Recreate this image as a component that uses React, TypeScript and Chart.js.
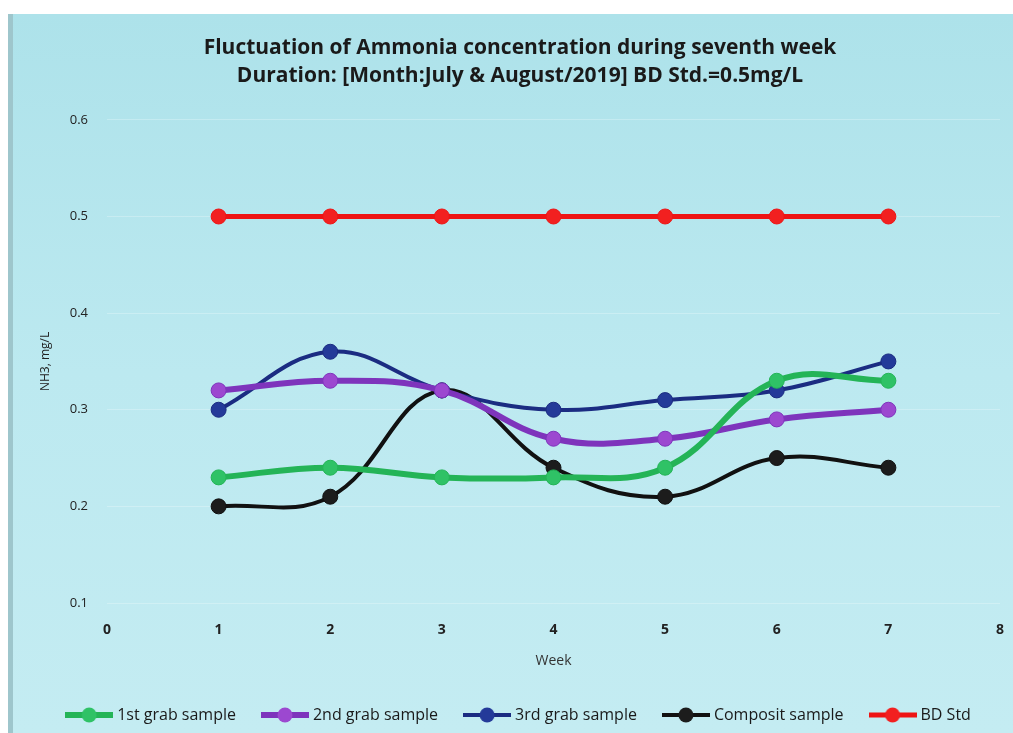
import React, { useEffect, useRef } from "react";
import { Chart, registerables } from "chart.js";

Chart.register(...registerables);

const weeks = [1, 2, 3, 4, 5, 6, 7];
const grab1 = [0.23, 0.24, 0.23, 0.23, 0.24, 0.33, 0.33];
const grab2 = [0.32, 0.33, 0.32, 0.27, 0.27, 0.29, 0.3];
const grab3 = [0.3, 0.36, 0.32, 0.3, 0.31, 0.32, 0.35];
const composit = [0.2, 0.21, 0.32, 0.24, 0.21, 0.25, 0.24];
const bdStd = [0.5, 0.5, 0.5, 0.5, 0.5, 0.5, 0.5];

const seriesNames = ["1st grab sample", "2nd grab sample", "3rd grab sample", "Composit sample", "BD Std"];
const titleLines = [
  "Fluctuation of Ammonia concentration during seventh week",
  "Duration: [Month:July & August/2019] BD Std.=0.5mg/L",
];

const FONT = "'Open Sans', Lato, sans-serif";

function legendIcon(line: string, fill: string, width: number) {
  const c = document.createElement("canvas");
  c.width = 48;
  c.height = 18;
  const ctx = c.getContext("2d")!;
  ctx.strokeStyle = line;
  ctx.lineWidth = width;
  ctx.beginPath();
  ctx.moveTo(0, 9);
  ctx.lineTo(48, 9);
  ctx.stroke();
  ctx.fillStyle = fill;
  ctx.beginPath();
  ctx.arc(24, 9, 7.5, 0, Math.PI * 2);
  ctx.fill();
  return c;
}

const bgPlugin = {
  id: "bgPlugin",
  beforeDraw(chart: any) {
    const { ctx, width, height } = chart;
    ctx.save();
    ctx.fillStyle = "#ffffff";
    ctx.fillRect(0, 0, width, height);
    const g = ctx.createLinearGradient(0, 14, 0, height);
    g.addColorStop(0, "#ade2ea");
    g.addColorStop(0.5, "#bce9f0");
    g.addColorStop(1, "#c4ecf2");
    ctx.fillStyle = g;
    ctx.fillRect(8, 14, width - 8, height - 14);
    ctx.fillStyle = "#9ec6cc";
    ctx.fillRect(8, 14, 5, height - 14);
    ctx.restore();
  },
};

export default function App() {
  const ref = useRef<HTMLCanvasElement>(null);
  useEffect(() => {
    if (!ref.current) return;
    const mk = (label: string, data: number[], line: string, point: string, bw: number) => ({
      label,
      data: data.map((v, i) => ({ x: weeks[i], y: v })),
      borderColor: line,
      backgroundColor: point,
      pointBackgroundColor: point,
      pointBorderColor: line,
      pointBorderWidth: 1,
      pointRadius: 7.5,
      pointStyle: "circle",
      borderWidth: bw,
      tension: 0.4,
      legendIcon: legendIcon(line, point, bw),
    });
    const datasets = [
      mk(seriesNames[0], grab1, "#24b457", "#2fc266", 6),
      mk(seriesNames[1], grab2, "#7e34bc", "#9c48d0", 6),
      mk(seriesNames[2], grab3, "#1b2c82", "#243a99", 4),
      mk(seriesNames[3], composit, "#111111", "#1c1c1c", 4),
      mk(seriesNames[4], bdStd, "#ee1414", "#f22020", 5),
    ];
    const chart = new Chart(ref.current, {
      type: "line",
      data: { datasets: datasets as any },
      plugins: [bgPlugin],
      options: {
        animation: false,
        responsive: false,
        layout: { padding: { left: 30, right: 3, top: 0, bottom: 0 } },
        plugins: {
          title: {
            display: true,
            text: titleLines,
            color: "#1a1a1a",
            font: { family: FONT, size: 21, weight: "bold", lineHeight: 1.33 },
            padding: { top: 34, bottom: 30 },
          },
          legend: {
            position: "bottom",
            labels: {
              usePointStyle: true,
              pointStyleWidth: 40,
              padding: 29,
              color: "#1a1a1a",
              font: { family: FONT, size: 16 },
              generateLabels(ch: any) {
                return ch.data.datasets.map((ds: any, i: number) => ({
                  text: ds.label,
                  pointStyle: ds.legendIcon,
                  fillStyle: ds.backgroundColor,
                  strokeStyle: ds.borderColor,
                  lineWidth: 0,
                  hidden: false,
                  datasetIndex: i,
                  fontColor: "#1a1a1a",
                }));
              },
            },
          },
          tooltip: { enabled: false },
        },
        scales: {
          x: {
            type: "linear",
            min: 0,
            max: 8,
            afterFit(scale: any) {
              scale.height = 75;
              scale.paddingRight = 13;
              scale.paddingLeft = 0;
            },
            ticks: { stepSize: 1, padding: 19, color: "#222", font: { family: FONT, size: 14, weight: "bold" } },
            grid: { display: false, drawTicks: false },
            border: { display: false },
            title: {
              display: true,
              text: "Week",
              color: "#333",
              font: { family: FONT, size: 14 },
              padding: { top: 0, bottom: 9 },
            },
          },
          y: {
            min: 0.1,
            max: 0.6,
            afterFit(scale: any) {
              scale.width = 77;
            },
            ticks: { stepSize: 0.1, padding: 19, color: "#222", font: { family: FONT, size: 13 } },
            grid: { color: "rgba(255,255,255,0.25)", drawTicks: false, lineWidth: 1 },
            border: { display: false },
            title: {
              display: true,
              text: "NH3, mg/L",
              color: "#222",
              font: { family: FONT, size: 12 },
              padding: { top: 8, bottom: 0 },
            },
          },
        },
      },
    });
    return () => chart.destroy();
  }, []);
  return (
    <div style={{ position: "fixed", left: 0, top: 0, width: 1013, height: 733 }}>
      <canvas ref={ref} width={1013} height={733} style={{ width: 1013, height: 733, display: "block" }} />
    </div>
  );
}
